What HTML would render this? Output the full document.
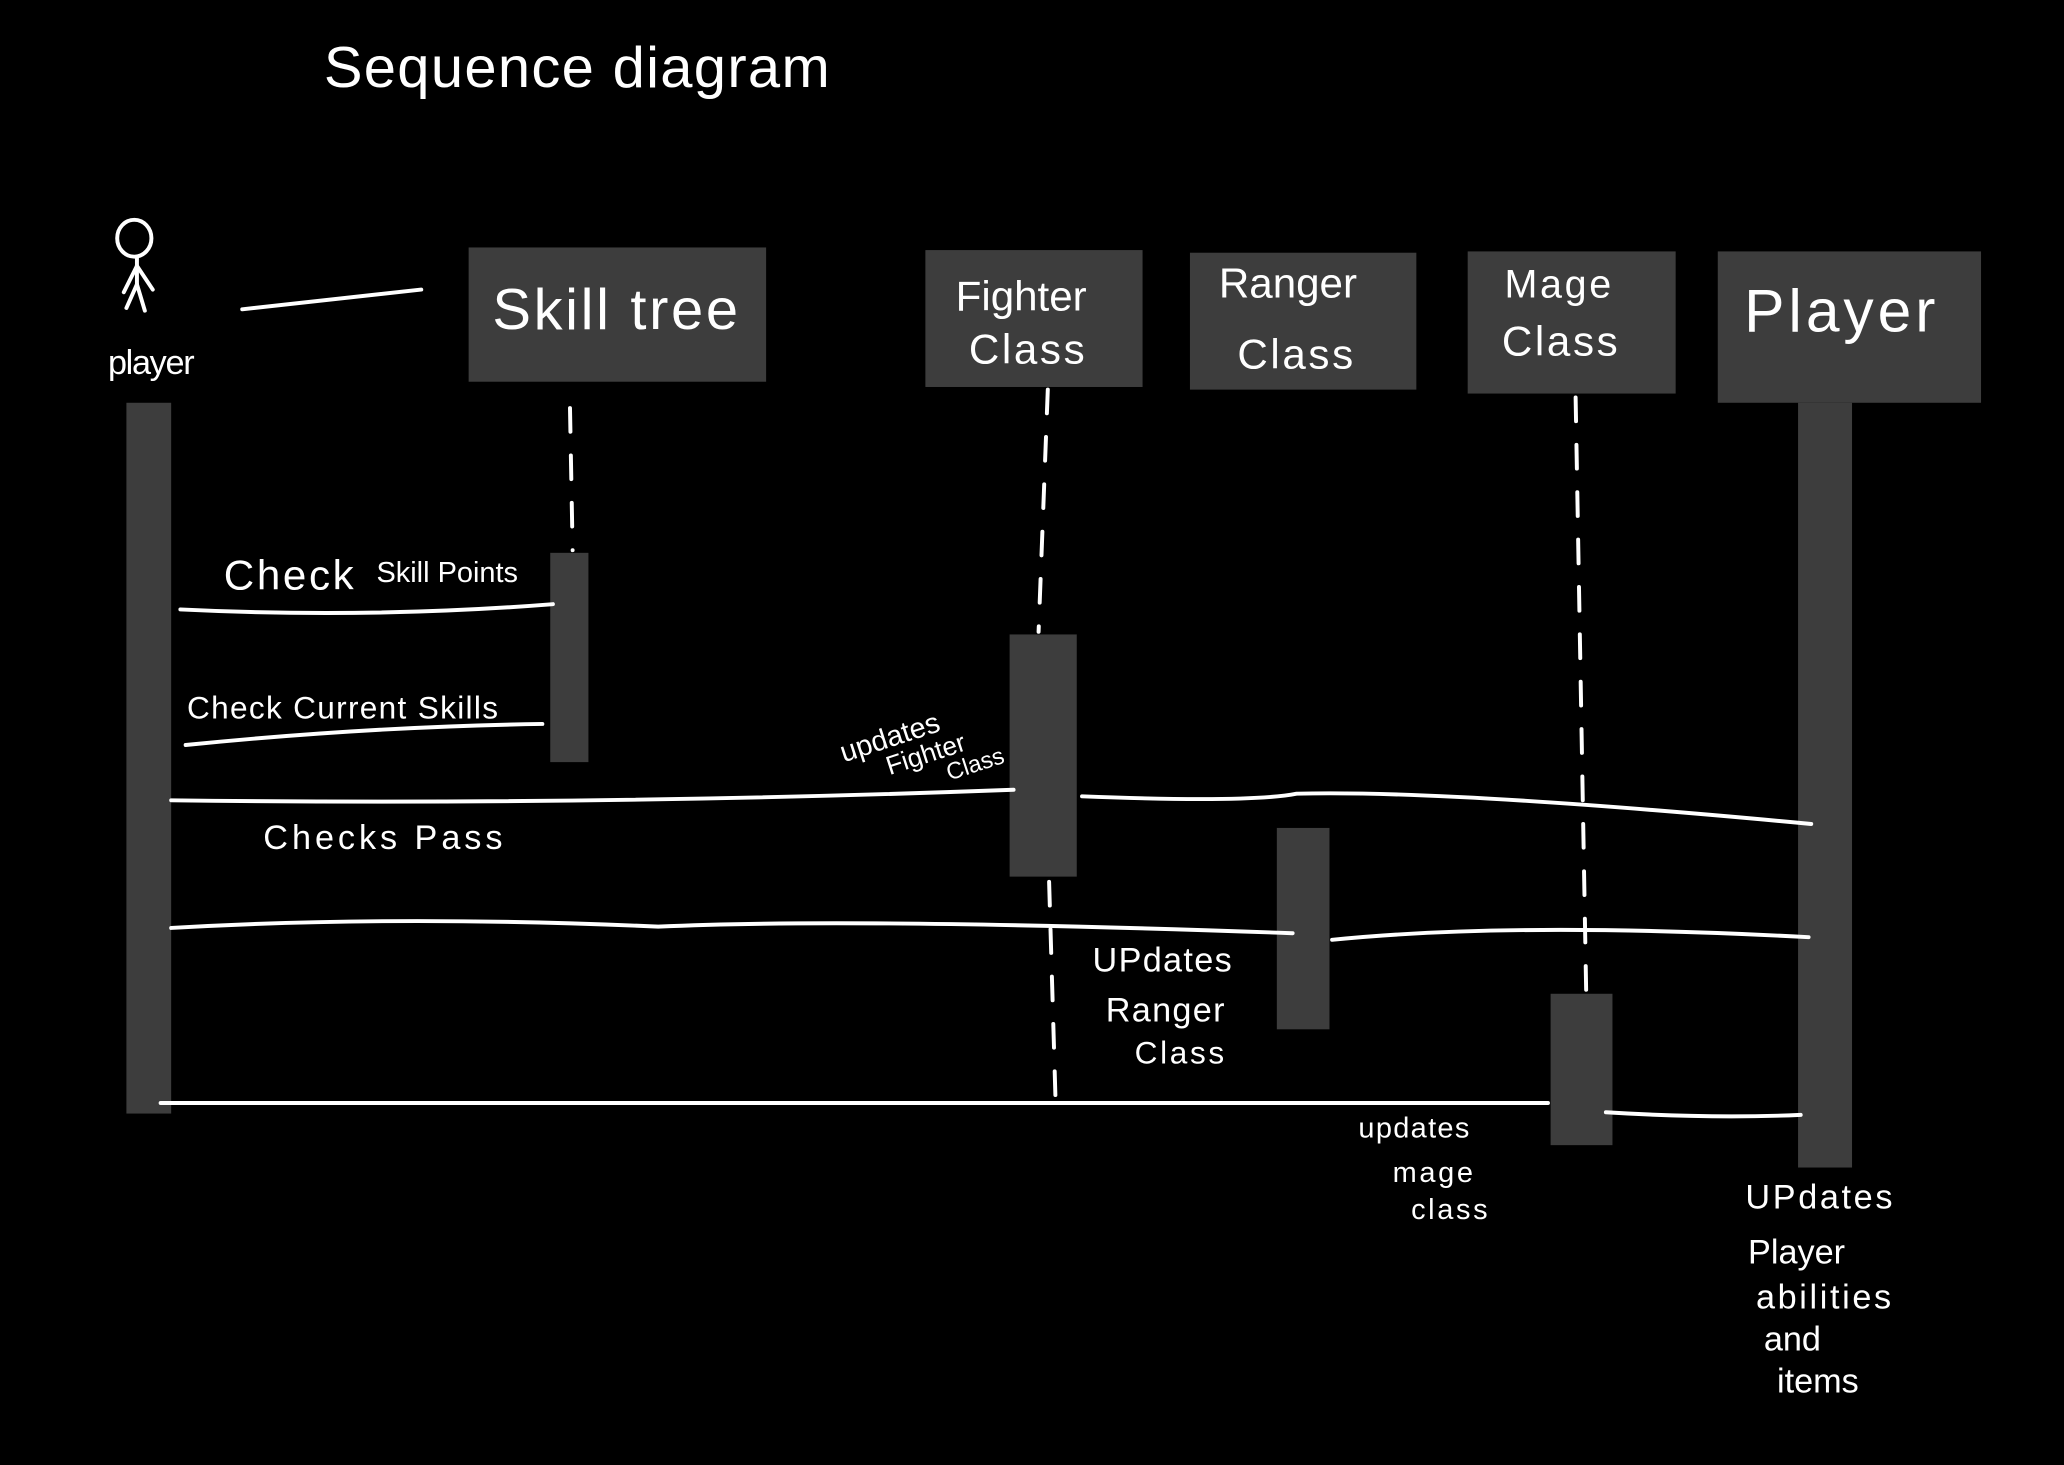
<!DOCTYPE html>
<html><head><meta charset="utf-8"><style>
html,body{margin:0;padding:0;background:#000;}
svg{display:block;}
text{font-family:"Liberation Sans",sans-serif;fill:#fff;}
</style></head><body>
<svg width="2064" height="1465" viewBox="0 0 1568 1113" xmlns="http://www.w3.org/2000/svg">
<rect width="1568" height="1113" fill="#000"/>
<text x="246" y="66" font-size="44" letter-spacing="1">Sequence  diagram</text>
<!-- stick figure -->
<g stroke="#fff" stroke-width="3" fill="none" stroke-linecap="round">
<ellipse cx="102" cy="181" rx="13" ry="14"/>
<line x1="104" y1="195" x2="104" y2="216"/>
<line x1="104" y1="202" x2="94" y2="222"/>
<line x1="104" y1="202" x2="116" y2="220"/>
<line x1="104" y1="216" x2="96" y2="234"/>
<line x1="104" y1="216" x2="110" y2="236"/>
<path d="M184 235 Q250 228 320 220"/>
</g>
<text x="82" y="284" font-size="26" letter-spacing="-1">player</text>
<!-- boxes -->
<g fill="#3d3d3d">
<rect x="356" y="188" width="226" height="102"/>
<rect x="703" y="190" width="165" height="104"/>
<rect x="904" y="192" width="172" height="104"/>
<rect x="1115" y="191" width="158" height="108"/>
<rect x="1305" y="191" width="200" height="115"/>
<rect x="96" y="306" width="34" height="540"/>
<rect x="418" y="420" width="29" height="159"/>
<rect x="767" y="482" width="51" height="184"/>
<rect x="970" y="629" width="40" height="153"/>
<rect x="1178" y="755" width="47" height="115"/>
<rect x="1366" y="306" width="41" height="581"/>
</g>
<text x="374" y="250" font-size="44" letter-spacing="2">Skill  tree</text>
<text x="726" y="236" font-size="32">Fighter</text>
<text x="736" y="276" font-size="32" letter-spacing="2">Class</text>
<text x="926" y="226" font-size="32">Ranger</text>
<text x="940" y="280" font-size="32" letter-spacing="2">Class</text>
<text x="1143" y="226" font-size="30" letter-spacing="2">Mage</text>
<text x="1141" y="270" font-size="32" letter-spacing="2">Class</text>
<text x="1325" y="252" font-size="46" letter-spacing="3">Player</text>
<!-- lifelines -->
<g stroke="#fff" stroke-width="3" fill="none" stroke-linecap="round" stroke-dasharray="18 18">
<line x1="433" y1="310" x2="435" y2="418"/>
<line x1="796" y1="296" x2="789" y2="480"/>
<line x1="797" y1="670" x2="802" y2="840"/>
<line x1="1197" y1="302" x2="1205" y2="752"/>
</g>
<!-- messages -->
<g stroke="#fff" stroke-width="3" fill="none" stroke-linecap="round">
<path d="M137 463 Q280 470 420 459"/>
<path d="M141 566 Q280 552 412 550"/>
<path d="M130 608 Q450 612 770 600"/>
<path d="M822 605 Q950 610 985 603 Q1100 600 1376 626"/>
<path d="M130 705 Q300 695 500 704 Q650 697 982 709"/>
<path d="M1012 714 Q1150 700 1374 712"/>
<path d="M122 838 L1176 838"/>
<path d="M1220 845 Q1300 850 1368 847"/>
</g>
<text x="170" y="448" font-size="32" letter-spacing="2">Check</text>
<text x="286" y="442" font-size="22">Skill Points</text>
<text x="142" y="546" font-size="24" letter-spacing="1">Check  Current  Skills</text>
<text x="200" y="645" font-size="26" letter-spacing="3">Checks  Pass</text>
<g transform="rotate(-18 700 560)">
<text x="638" y="560" font-size="22">updates</text>
<text x="668" y="580" font-size="20">Fighter</text>
<text x="710" y="598" font-size="18">Class</text>
</g>
<text x="830" y="738" font-size="26" letter-spacing="1">UPdates</text>
<text x="840" y="776" font-size="26" letter-spacing="1">Ranger</text>
<text x="862" y="808" font-size="24" letter-spacing="2">Class</text>
<text x="1032" y="864" font-size="22" letter-spacing="1">updates</text>
<text x="1058" y="898" font-size="22" letter-spacing="2">mage</text>
<text x="1072" y="926" font-size="22" letter-spacing="2">class</text>
<text x="1326" y="918" font-size="26" letter-spacing="2">UPdates</text>
<text x="1328" y="960" font-size="26">Player</text>
<text x="1334" y="994" font-size="26" letter-spacing="2">abilities</text>
<text x="1340" y="1026" font-size="26">and</text>
<text x="1350" y="1058" font-size="26">items</text>
</svg>
</body></html>
